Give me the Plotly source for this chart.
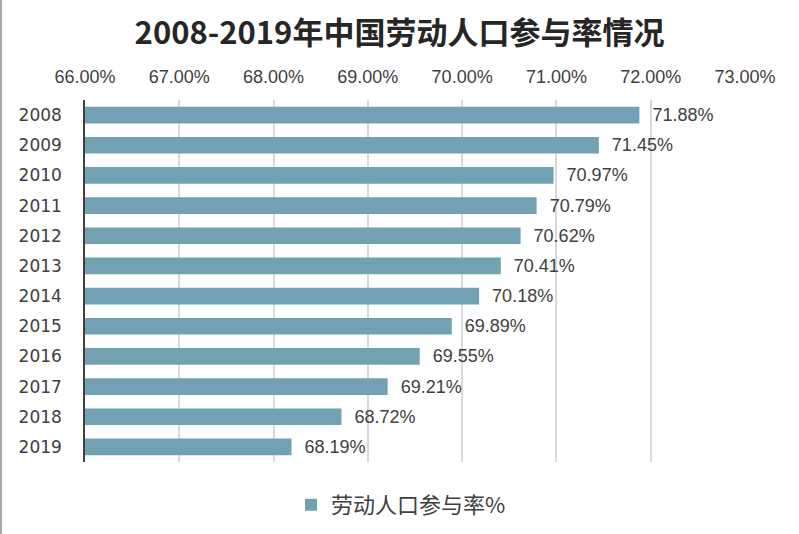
import plotly.graph_objects as go

years = ["2008", "2009", "2010", "2011", "2012", "2013", "2014", "2015", "2016", "2017", "2018", "2019"]
rates = [71.88, 71.45, 70.97, 70.79, 70.62, 70.41, 70.18, 69.89, 69.55, 69.21, 68.72, 68.19]
tick_vals = [66, 67, 68, 69, 70, 71, 72, 73]
tick_text = ["66.00%", "67.00%", "68.00%", "69.00%", "70.00%", "71.00%", "72.00%", "73.00%"]
series_name = "劳动人口参与率%"
title = "2008-2019年中国劳动人口参与率情况"

W, H = 799, 534
ml, mr, mt, mb = 85, 54, 100, 72
pw, ph = W - ml - mr, H - mt - mb

fig = go.Figure()
fig.add_trace(go.Bar(
    y=years, x=rates, orientation="h", name=series_name,
    marker=dict(color="#73A1B4", line=dict(width=0)),
    text=[f"\u00a0\u00a0{v:.2f}%" for v in rates], textposition="outside",
    constraintext="none",
    textfont=dict(family="Liberation Sans, Arial", size=18, color="#404040"),
    cliponaxis=False,
))

fig.update_layout(
    width=W, height=H,
    margin=dict(l=ml, r=mr, t=mt, b=mb, autoexpand=False),
    paper_bgcolor="white", plot_bgcolor="white",
    bargap=0.45,
    showlegend=True,
    title=dict(text=f"<b>{title}</b>", x=0.5, xanchor="center", y=1 - 33 / H, yanchor="middle",
               font=dict(family="Noto Sans CJK SC", size=31, color="#262626")),
    legend=dict(orientation="h", x=0.5 - 14 / pw, xanchor="center", y=-(505 - (H - mb)) / ph, yanchor="middle",
                font=dict(family="Noto Sans CJK SC", size=22, color="#404040"),
                itemwidth=30),
    xaxis=dict(side="top", range=[66, 73], tickvals=tick_vals, ticktext=tick_text,
               showgrid=True, gridcolor="#D9D9D9", gridwidth=1.5, zeroline=False,
               showline=False, ticks="", automargin=False, ticklabelstandoff=12,
               tickfont=dict(family="Liberation Sans, Arial", size=18, color="#404040")),
    yaxis=dict(autorange="reversed", showline=True, linecolor="#404040", linewidth=1.5,
               ticks="", showgrid=False, automargin=False, ticklabelstandoff=18,
               tickfont=dict(family="DejaVu Sans", size=17, color="#404040")),
)

fig.add_shape(type="line", xref="paper", yref="paper",
              x0=-(ml - 1) / pw, x1=-(ml - 1) / pw, y0=-mb / ph, y1=1 + mt / ph,
              line=dict(color="#A6A6A6", width=2))

fig.write_html("out.html", config={"displayModeBar": False},
               post_script="document.body.style.margin='0';document.body.style.overflow='hidden';")
